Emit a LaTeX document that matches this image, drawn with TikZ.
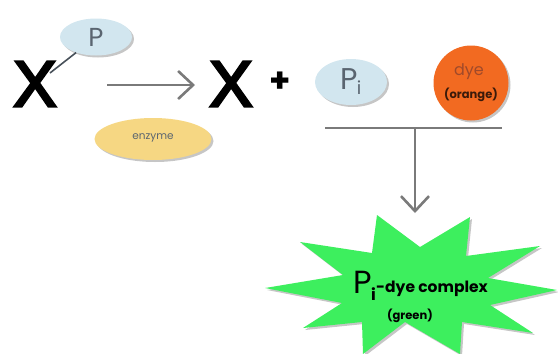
\documentclass[tikz,border=0pt]{standalone}
\usepackage{fontspec}
\setmainfont{Poppins}
\newfontfamily\xfont[FakeBold=4]{Liberation Sans}
\usetikzlibrary{arrows.meta,shadows,shapes.geometric}
\definecolor{pblue}{HTML}{D2E6EF}
\definecolor{enzy}{HTML}{F6D783}
\definecolor{dyeor}{HTML}{F26A21}
\definecolor{stargreen}{HTML}{3DEF5E}
\definecolor{arrgray}{HTML}{7A7A7A}
\definecolor{ptext}{HTML}{5A6570}
\definecolor{dyetext}{HTML}{A04A2A}
\definecolor{dyedark}{HTML}{3A1A0A}
\tikzset{
  shad/.style={drop shadow={opacity=0.45,shadow xshift=2pt,shadow yshift=-2pt}},
  blob/.style={ellipse,inner sep=0pt,shad},
  bigx/.style={font=\xfont\fontsize{65}{65}\selectfont,inner sep=0pt},
  conn/.style={draw=arrgray,line width=2.6pt},
  arr/.style={conn,-{Straight Barb[length=15pt,width=28pt,line width=2.6pt]}}
}
\begin{document}
\begin{tikzpicture}[x=1pt,y=-1pt]
\useasboundingbox (0,0) rectangle (558,354);
% left X with phosphate
\node[bigx] (xl) at (35,84) {X};
\node[blob,fill=pblue,minimum width=72pt,minimum height=37pt] (pel) at (96,37) {};
\node[text=ptext,font=\fontsize{26}{26}\selectfont,inner sep=0pt] (ptxt) at (96,37) {P};
\coordinate (xtip) at (50,73);
\draw[draw=ptext!80!black,line width=1.6pt] (xtip) -- (pel);
% enzyme arrow
\coordinate (a1) at (107,85);
\coordinate (a2) at (195,85);
\draw[arr] (a1) -- (a2);
\node[blob,fill=enzy,minimum width=117pt,minimum height=42pt] (enz) at (153,139) {};
\node[text=ptext,font=\fontsize{10.5}{10.5}\selectfont,inner sep=0pt] (enztxt) at (153,138) {enzyme};
% right side
\node[bigx] (xr) at (231,84) {X};
\node[font=\fontsize{34}{34}\selectfont\bfseries,inner sep=0pt] (plus) at (280,82) {+};
\node[blob,fill=pblue,minimum width=72pt,minimum height=46pt] (piel) at (351,82) {};
\node[text=ptext,font=\fontsize{30}{30}\selectfont,inner sep=0pt] (pitxt) at (351,82) {P\kern-1pt\raisebox{-5pt}{\fontsize{18}{18}\selectfont i}};
\node[circle,fill=dyeor,minimum size=75pt,inner sep=0pt,shad] (dye) at (471,83) {};
\node[text=dyetext,font=\fontsize{16}{16}\selectfont,inner sep=0pt] (dyetxt) at (469,72) {dye};
\node[text=dyedark,font=\fontsize{11.5}{11.5}\selectfont\bfseries,inner sep=0pt] (ortxt) at (471,95) {(orange)};
% bar and down arrow
\coordinate (b1) at (325,128);
\coordinate (b2) at (502,128);
\coordinate (bm) at (415,128);
\coordinate (bt) at (415,213);
\draw[conn] (b1) -- (b2);
\draw[arr] (bm) -- (bt);
% star
\filldraw[fill=stargreen,draw=none,shad]
 (377,215) -- (420,247) -- (470,217) -- (466,256) -- (540,246) -- (488,278)
 -- (557,290) -- (490,305) -- (533,333) -- (462,322) -- (460,354) -- (405,322)
 -- (363,354) -- (362,322) -- (303,328) -- (342,303) -- (265,288) -- (343,275)
 -- (300,242) -- (372,253) -- cycle;
\node[font=\fontsize{32}{32}\selectfont,inner sep=0pt,anchor=base west] (starp) at (353,293) {P};
\node[font=\fontsize{16}{16}\selectfont\bfseries,inner sep=0pt,anchor=base west] (stari) at (371,300) {i};
\node[font=\fontsize{15.5}{15.5}\selectfont\bfseries,inner sep=0pt,anchor=base west] (startxt) at (376,292) {-dye complex};
\node[font=\fontsize{11.5}{11.5}\selectfont\bfseries,inner sep=0pt] (grtxt) at (410,316) {(green)};
\end{tikzpicture}
\end{document}
